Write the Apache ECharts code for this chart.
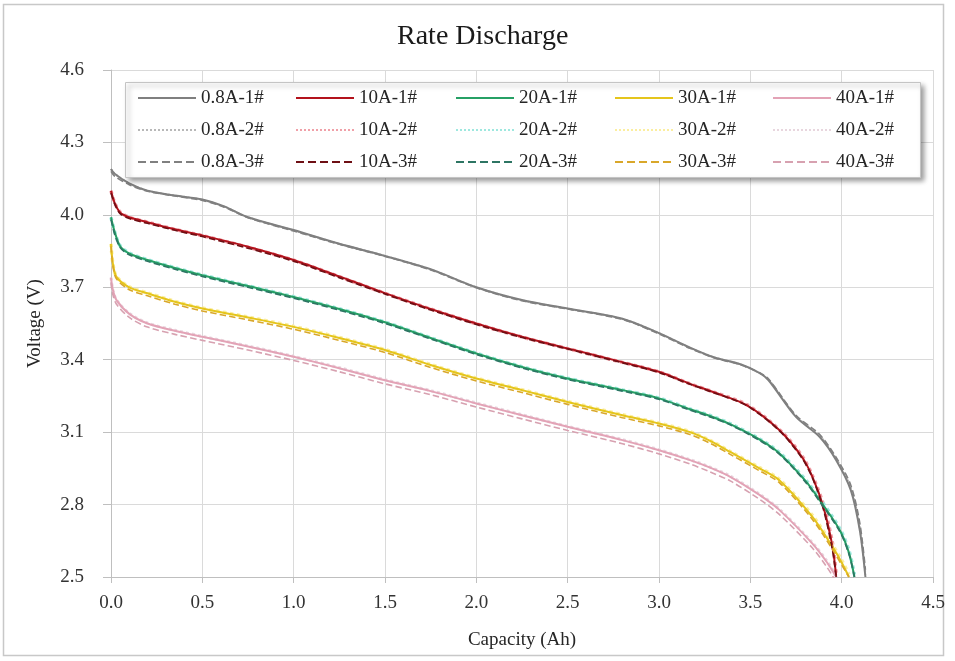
<!DOCTYPE html>
<html>
<head>
<meta charset="utf-8">
<script src="https://cdn.jsdelivr.net/npm/echarts@6/dist/echarts.min.js"></script>
<style>
html,body{margin:0;padding:0;background:#fff;}
#chart{width:955px;height:661px;}
</style>
</head>
<body>
<div id="chart"></div>
<script>
// ---- Data ----
const xTicks = [0.0, 0.5, 1.0, 1.5, 2.0, 2.5, 3.0, 3.5, 4.0, 4.5];
const yTicks = [2.5, 2.8, 3.1, 3.4, 3.7, 4.0, 4.3, 4.6];

const cap08 = [0, 0.02, 0.1, 0.2, 0.35, 0.5, 0.62, 0.75, 1.0, 1.25, 1.5, 1.75, 2.0, 2.25, 2.5, 2.8, 3.0, 3.17, 3.3, 3.45, 3.55, 3.6, 3.75, 3.88, 3.97, 4.05, 4.1, 4.13];
const v08_1 = [4.19, 4.17, 4.13, 4.10, 4.08, 4.064, 4.035, 3.99, 3.937, 3.88, 3.83, 3.775, 3.70, 3.647, 3.612, 3.57, 3.51, 3.45, 3.41, 3.38, 3.345, 3.315, 3.163, 3.08, 2.984, 2.86, 2.69, 2.5];
const v08_2 = [4.19, 4.17, 4.13, 4.10, 4.08, 4.062, 4.034, 3.99, 3.935, 3.88, 3.83, 3.774, 3.70, 3.646, 3.611, 3.569, 3.51, 3.449, 3.41, 3.379, 3.345, 3.318, 3.166, 3.085, 2.99, 2.87, 2.70, 2.51];
const v08_3 = [4.18, 4.16, 4.125, 4.098, 4.078, 4.06, 4.032, 3.988, 3.933, 3.878, 3.828, 3.772, 3.698, 3.644, 3.61, 3.567, 3.507, 3.447, 3.408, 3.378, 3.346, 3.32, 3.17, 3.09, 2.995, 2.88, 2.72, 2.53];

const cap10 = [0, 0.02, 0.05, 0.1, 0.2, 0.35, 0.5, 0.75, 1.0, 1.25, 1.5, 1.75, 2.0, 2.25, 2.5, 2.8, 3.0, 3.17, 3.3, 3.48, 3.66, 3.78, 3.84, 3.9, 3.95, 3.97];
const v10_1 = [4.10, 4.05, 4.01, 3.99, 3.97, 3.94, 3.915, 3.868, 3.813, 3.745, 3.676, 3.61, 3.55, 3.495, 3.447, 3.39, 3.35, 3.30, 3.265, 3.212, 3.108, 3.0, 2.915, 2.79, 2.625, 2.5];
const v10_2 = [4.10, 4.05, 4.012, 3.99, 3.97, 3.94, 3.914, 3.866, 3.812, 3.744, 3.675, 3.61, 3.549, 3.494, 3.446, 3.389, 3.35, 3.30, 3.266, 3.214, 3.11, 3.005, 2.92, 2.80, 2.64, 2.51];
const v10_3 = [4.09, 4.045, 4.005, 3.985, 3.965, 3.936, 3.91, 3.862, 3.808, 3.74, 3.672, 3.606, 3.546, 3.492, 3.444, 3.387, 3.347, 3.298, 3.263, 3.21, 3.105, 2.995, 2.91, 2.78, 2.61, 2.5];

const cap20 = [0, 0.02, 0.05, 0.1, 0.2, 0.35, 0.5, 0.75, 1.0, 1.25, 1.5, 1.75, 2.0, 2.25, 2.5, 2.8, 3.0, 3.17, 3.28, 3.39, 3.55, 3.66, 3.8, 3.88, 3.99, 4.04, 4.07];
const v20_1 = [3.99, 3.93, 3.87, 3.84, 3.813, 3.78, 3.75, 3.705, 3.66, 3.61, 3.555, 3.49, 3.426, 3.37, 3.322, 3.274, 3.24, 3.195, 3.167, 3.133, 3.07, 3.012, 2.9, 2.818, 2.694, 2.6, 2.5];
const v20_2 = [3.99, 3.93, 3.872, 3.842, 3.814, 3.781, 3.751, 3.706, 3.661, 3.611, 3.556, 3.491, 3.427, 3.371, 3.323, 3.275, 3.241, 3.196, 3.169, 3.135, 3.072, 3.015, 2.905, 2.825, 2.70, 2.61, 2.51];
const v20_3 = [3.98, 3.92, 3.865, 3.835, 3.808, 3.775, 3.745, 3.70, 3.655, 3.605, 3.55, 3.486, 3.422, 3.366, 3.318, 3.27, 3.236, 3.191, 3.163, 3.13, 3.066, 3.008, 2.895, 2.812, 2.688, 2.594, 2.5];

const cap30 = [0, 0.01, 0.03, 0.1, 0.2, 0.35, 0.5, 0.75, 1.0, 1.25, 1.5, 1.75, 2.0, 2.25, 2.5, 2.8, 3.0, 3.17, 3.28, 3.39, 3.55, 3.66, 3.84, 3.95, 4.0, 4.04];
const v30_1 = [3.88, 3.80, 3.743, 3.70, 3.675, 3.64, 3.612, 3.575, 3.536, 3.49, 3.44, 3.378, 3.322, 3.274, 3.225, 3.17, 3.136, 3.10, 3.064, 3.018, 2.95, 2.90, 2.749, 2.625, 2.56, 2.5];
const v30_2 = [3.88, 3.80, 3.745, 3.702, 3.677, 3.642, 3.614, 3.577, 3.538, 3.492, 3.442, 3.38, 3.324, 3.276, 3.227, 3.172, 3.138, 3.102, 3.066, 3.02, 2.953, 2.904, 2.755, 2.632, 2.57, 2.51];
const v30_3 = [3.87, 3.79, 3.735, 3.69, 3.665, 3.63, 3.602, 3.565, 3.526, 3.48, 3.43, 3.368, 3.312, 3.264, 3.215, 3.16, 3.126, 3.09, 3.054, 3.008, 2.94, 2.89, 2.738, 2.614, 2.55, 2.5];

const cap40 = [0, 0.01, 0.03, 0.1, 0.2, 0.35, 0.5, 0.75, 1.0, 1.25, 1.5, 1.75, 2.0, 2.25, 2.5, 2.8, 3.0, 3.17, 3.28, 3.39, 3.55, 3.66, 3.84, 3.92, 3.97];
const v40_1 = [3.74, 3.69, 3.647, 3.59, 3.55, 3.52, 3.495, 3.455, 3.412, 3.365, 3.315, 3.27, 3.219, 3.17, 3.122, 3.067, 3.025, 2.984, 2.953, 2.915, 2.84, 2.777, 2.638, 2.56, 2.5];
const v40_2 = [3.74, 3.69, 3.648, 3.592, 3.552, 3.522, 3.497, 3.457, 3.414, 3.367, 3.317, 3.272, 3.221, 3.172, 3.124, 3.069, 3.027, 2.986, 2.955, 2.918, 2.843, 2.78, 2.642, 2.565, 2.505];
const v40_3 = [3.72, 3.67, 3.63, 3.575, 3.535, 3.505, 3.48, 3.44, 3.397, 3.35, 3.30, 3.255, 3.204, 3.155, 3.107, 3.052, 3.01, 2.968, 2.935, 2.898, 2.822, 2.758, 2.62, 2.54, 2.48];

const currents = ['0.8A', '10A', '20A', '30A', '40A'];
const capacities = [cap08, cap10, cap20, cap30, cap40];
const voltages = [[v08_1, v08_2, v08_3], [v10_1, v10_2, v10_3], [v20_1, v20_2, v20_3], [v30_1, v30_2, v30_3], [v40_1, v40_2, v40_3]];

// ---- Styles ----
const FONT = "'Liberation Serif', 'Times New Roman', serif";
const styles = [
  // [run1, run2 (dotted, pale), run3 (dashed)]
  [{c:'#7f7f7f', w:2, t:'solid'}, {c:'#b8b8b8', w:2, t:'dotted'}, {c:'#808080', w:1.6, t:'dashed'}],
  [{c:'#b3121c', w:2, t:'solid'}, {c:'#f0a0a8', w:3.5, t:'dotted'}, {c:'#6e0f14', w:1.6, t:'dashed'}],
  [{c:'#26a065', w:2, t:'solid'}, {c:'#9ee8df', w:3.5, t:'dotted'}, {c:'#2d7563', w:1.6, t:'dashed'}],
  [{c:'#e5c51c', w:2, t:'solid'}, {c:'#fbeea0', w:3.5, t:'dotted'}, {c:'#d9a72a', w:1.6, t:'dashed'}],
  [{c:'#e3a3b6', w:2, t:'solid'}, {c:'#e8d6de', w:3, t:'dotted'}, {c:'#d7a1b0', w:1.6, t:'dashed'}]
];

const series = [];
const drawOrder = [1, 0, 2];
drawOrder.forEach(function (r) {
  currents.forEach(function (cur, i) {
    const st = styles[i][r];
    const data = capacities[i].map(function (x, k) { return [x, voltages[i][r][k]]; });
    series.push({
      name: cur + '-' + (r + 1) + '#',
      type: 'line',
      data: data,
      symbol: 'none',
      showSymbol: false,
      smooth: 0.3,
      clip: true,
      color: st.c,
      lineStyle: {color: st.c, width: st.w, type: st.t},
      z: 2 + (r === 2 ? 0.5 : 0)
    });
  });
});

const textLeft = [200, 358, 518, 677, 835];
const legends = currents.map(function (cur, i) {
  return {
    orient: 'vertical',
    left: textLeft[i] - 63,
    top: 88,
    padding: 0,
    itemWidth: 58,
    itemHeight: 14,
    itemGap: 12,
    itemStyle: {opacity: 0},
    data: [cur + '-1#', cur + '-2#', cur + '-3#'],
    textStyle: {fontFamily: FONT, fontSize: 19, color: '#262626', lineHeight: 20},
    selectedMode: false
  };
});

const chart = echarts.init(document.getElementById('chart'));
chart.setOption({
  backgroundColor: '#ffffff',
  animation: false,
  title: {
    text: 'Rate Discharge',
    left: 397, top: 23, padding: 0,
    textStyle: {fontFamily: FONT, fontSize: 28, fontWeight: 'normal', color: '#1a1a1a'}
  },
  legend: legends,
  grid: {left: 111, right: 22, top: 70, bottom: 84},
  xAxis: {
    type: 'value', min: xTicks[0], max: xTicks[xTicks.length - 1], interval: 0.5,
    name: 'Capacity (Ah)', nameLocation: 'middle', nameGap: 54,
    nameTextStyle: {fontFamily: FONT, fontSize: 19, color: '#262626'},
    axisLine: {show: true, lineStyle: {color: '#bfbfbf', width: 1}},
    axisTick: {show: true, length: 6, lineStyle: {color: '#bfbfbf'}},
    axisLabel: {fontFamily: FONT, fontSize: 19, color: '#333', margin: 17, formatter: function (v) { return v.toFixed(1); }},
    splitLine: {show: true, lineStyle: {color: '#dadada', width: 1}}
  },
  yAxis: {
    type: 'value', min: yTicks[0], max: yTicks[yTicks.length - 1], interval: 0.3,
    name: 'Voltage (V)', nameLocation: 'middle', nameGap: 66, nameRotate: 90,
    nameTextStyle: {fontFamily: FONT, fontSize: 19, color: '#262626'},
    axisLine: {show: true, lineStyle: {color: '#bfbfbf', width: 1}},
    axisTick: {show: true, length: 8, lineStyle: {color: '#bfbfbf'}},
    axisLabel: {fontFamily: FONT, fontSize: 19, color: '#333', margin: 27, formatter: function (v) { return v.toFixed(1); }},
    splitLine: {show: true, lineStyle: {color: '#dadada', width: 1}}
  },
  graphic: [
    {type: 'rect', silent: true, z: 0,
     shape: {x: 3.5, y: 4.5, width: 940, height: 651},
     style: {fill: 'none', stroke: '#c8c8c8', lineWidth: 1.5}},
    {type: 'rect', silent: true, z: 3,
     shape: {x: 125.5, y: 82.5, width: 795, height: 95},
     style: {fill: '#ffffff', stroke: '#c4c4c4', lineWidth: 1,
             shadowBlur: 5, shadowOffsetX: 3, shadowOffsetY: 3, shadowColor: 'rgba(0,0,0,0.4)'}}
  ],
  series: series
});
</script>
</body>
</html>
